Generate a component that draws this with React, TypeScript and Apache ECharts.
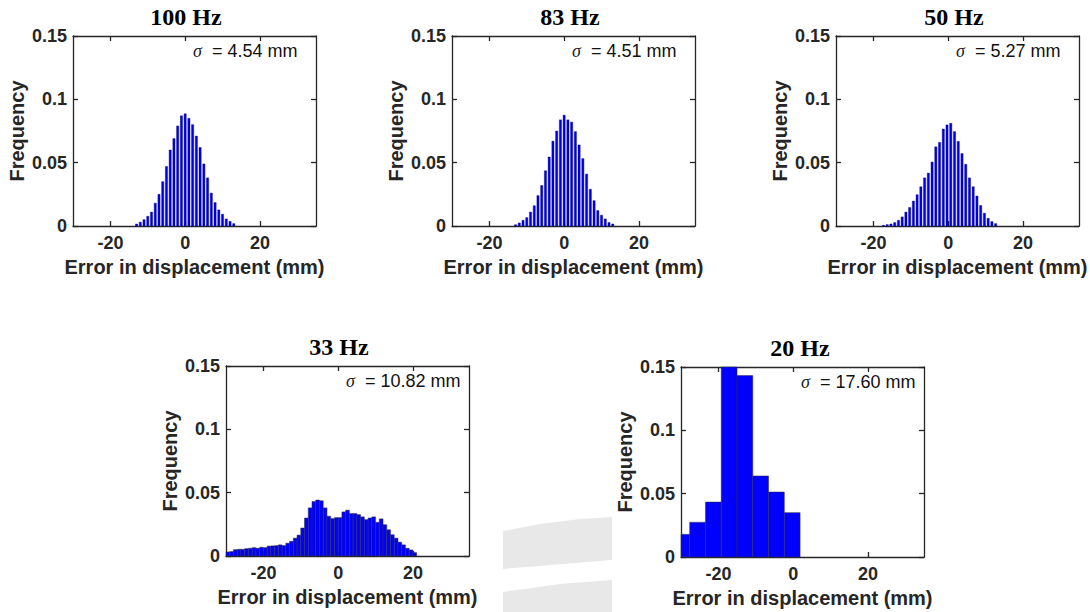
import React, { useEffect, useRef } from "react";
import * as echarts from "echarts";

// ---- data ----
const panelTitles = ["100 Hz", "83 Hz", "50 Hz", "33 Hz", "20 Hz"];
const sigmaValues = ["4.54", "4.51", "5.27", "10.82", "17.60"];
const xTickValues = [-20, 0, 20];

const freq100 = [0.0016, 0.003, 0.005, 0.0077, 0.011, 0.018, 0.025, 0.035, 0.047, 0.06, 0.069, 0.079, 0.087, 0.0886, 0.085, 0.08, 0.071, 0.062, 0.049, 0.038, 0.026, 0.0185, 0.0127, 0.0093, 0.0056, 0.0037, 0.0019];
const freq83 = [0.001, 0.0024, 0.0045, 0.0066, 0.011, 0.016, 0.024, 0.032, 0.0436, 0.0545, 0.067, 0.075, 0.0838, 0.0875, 0.0838, 0.082, 0.0745, 0.064, 0.0532, 0.041, 0.029, 0.02, 0.0122, 0.0085, 0.0056, 0.0027, 0.0016];
const freq50 = [0.0005, 0.0011, 0.0016, 0.0027, 0.0045, 0.0072, 0.011, 0.0146, 0.0197, 0.0247, 0.031, 0.038, 0.0418, 0.0505, 0.0625, 0.066, 0.0766, 0.0798, 0.0811, 0.0745, 0.0668, 0.0572, 0.0487, 0.038, 0.031, 0.0237, 0.0162, 0.0101, 0.0061, 0.0035, 0.0019];
const freq33 = [0.0032, 0.0035, 0.005, 0.0053, 0.0053, 0.0058, 0.0061, 0.0066, 0.0061, 0.0069, 0.0066, 0.0078, 0.008, 0.0082, 0.0088, 0.0082, 0.0101, 0.0116, 0.0141, 0.0165, 0.0221, 0.03, 0.038, 0.043, 0.0442, 0.0436, 0.038, 0.0314, 0.0295, 0.0303, 0.0303, 0.0348, 0.0362, 0.0335, 0.0335, 0.0327, 0.0309, 0.0287, 0.03, 0.0309, 0.0266, 0.0293, 0.0247, 0.0207, 0.0168, 0.0141, 0.0109, 0.0088, 0.0061, 0.0048, 0.0027];
const freq20 = [0.0179, 0.0274, 0.0434, 0.16, 0.1432, 0.064, 0.0513, 0.035];

// histogram bin definitions: first edge and bin width (mm)
const binStarts = [-13.5, -13.5, -17.8, -30, -31.9];
const binWidths = [1, 1, 1, 1, 4.22];
const freqs = [freq100, freq83, freq50, freq33, freq20];

// ---- layout ----
const boxes = [
  { left: 73, top: 36, titleX: 186 },
  { left: 452, top: 36, titleX: 570 },
  { left: 836, top: 36, titleX: 954 },
  { left: 226, top: 366, titleX: 339 },
  { left: 681, top: 367, titleX: 800 },
];
const BOX_W = 243;
const BOX_H = 190;
const AX = "#262626";
const SANS = "Liberation Sans, Arial, sans-serif";

function histData(i: number) {
  const s = binStarts[i];
  const w = binWidths[i];
  return freqs[i].map((f, k) => [s + k * w, s + (k + 1) * w, f]);
}

function makeRender(shrink: number, fill: string, stroke: string, lw: number) {
  return (params: any, api: any) => {
    const x0 = api.value(0);
    const x1 = api.value(1);
    const y = api.value(2);
    const p0 = api.coord([x0, y]);
    const p1 = api.coord([x1, 0]);
    const full = p1[0] - p0[0];
    const bw = full * shrink;
    const cs = params.coordSys;
    const rect = echarts.graphic.clipRectByRect(
      { x: p0[0] + (full - bw) / 2, y: p0[1], width: bw, height: p1[1] - p0[1] },
      { x: cs.x, y: cs.y, width: cs.width, height: cs.height }
    );
    if (!rect) return null;
    return {
      type: "rect",
      shape: rect,
      style: { fill, stroke, lineWidth: lw },
    };
  };
}

export default function App() {
  const ref = useRef<HTMLDivElement>(null);
  useEffect(() => {
    if (!ref.current) return;
    const chart = echarts.init(ref.current, null, { renderer: "svg" });
    const grid: any[] = [];
    const xAxis: any[] = [];
    const yAxis: any[] = [];
    const series: any[] = [];
    const title: any[] = [];
    const graphic: any[] = [
      // faint watermark visible in the gap between the lower panels
      {
        type: "polygon",
        z: -10,
        shape: { points: [[503, 531], [540, 524], [580, 519], [612, 517], [612, 560], [503, 569]] },
        style: { fill: "#e8e8e8" },
        silent: true,
      },
      {
        type: "polygon",
        z: -10,
        shape: { points: [[503, 592], [560, 584], [612, 580], [612, 612], [503, 612]] },
        style: { fill: "#e8e8e8" },
        silent: true,
      },
    ];

    boxes.forEach((b, i) => {
      grid.push({ left: b.left, top: b.top, width: BOX_W, height: BOX_H, containLabel: false });
      const lineStyle = { color: AX, width: 1.3 };
      xAxis.push({
        gridIndex: i,
        type: "value",
        min: -30,
        max: 35,
        position: "bottom",
        axisLine: { show: true, onZero: false, lineStyle },
        axisTick: { show: true, inside: true, length: 5, customValues: xTickValues, lineStyle },
        axisLabel: {
          show: true,
          customValues: xTickValues,
          margin: 8,
          color: AX,
          fontFamily: SANS,
          fontWeight: "bold",
          fontSize: 18,
        },
        splitLine: { show: false },
        name: "Error in displacement (mm)",
        nameLocation: "middle",
        nameGap: 31,
        nameTextStyle: { color: AX, fontFamily: SANS, fontWeight: "bold", fontSize: 20 },
      });
      xAxis.push({
        gridIndex: i,
        type: "value",
        min: -30,
        max: 35,
        position: "top",
        axisLine: { show: true, onZero: false, lineStyle },
        axisTick: { show: true, inside: true, length: 5, customValues: xTickValues, lineStyle },
        axisLabel: { show: false },
        splitLine: { show: false },
      });
      yAxis.push({
        gridIndex: i,
        type: "value",
        min: 0,
        max: 0.15,
        interval: 0.05,
        position: "left",
        axisLine: { show: true, onZero: false, lineStyle },
        axisTick: { show: true, inside: true, length: 5, lineStyle },
        axisLabel: {
          show: true,
          margin: 6,
          color: AX,
          fontFamily: SANS,
          fontWeight: "bold",
          fontSize: 18,
        },
        splitLine: { show: false },
        name: "Frequency",
        nameLocation: "middle",
        nameRotate: 90,
        nameGap: 46,
        nameTextStyle: { color: AX, fontFamily: SANS, fontWeight: "bold", fontSize: 20 },
      });
      yAxis.push({
        gridIndex: i,
        type: "value",
        min: 0,
        max: 0.15,
        interval: 0.05,
        position: "right",
        axisLine: { show: true, onZero: false, lineStyle },
        axisTick: { show: true, inside: true, length: 5, lineStyle },
        axisLabel: { show: false },
        splitLine: { show: false },
      });
      const thin = i < 3;
      series.push({
        type: "custom",
        xAxisIndex: 2 * i,
        yAxisIndex: 2 * i,
        renderItem: thin
          ? makeRender(0.58, "#0000e6", "#00007a", 0.4)
          : makeRender(1, "#0000ff", "#333333", 0.5),
        encode: { x: [0, 1], y: 2 },
        data: histData(i),
        z: 1,
      });
      title.push({
        text: panelTitles[i],
        left: b.titleX,
        top: b.top - 31,
        textAlign: "center",
        textStyle: {
          fontFamily: "Liberation Serif, Times New Roman, serif",
          fontWeight: "bold",
          fontSize: 24,
          color: "#000",
        },
        padding: 0,
      });
      graphic.push({
        type: "text",
        x: b.left + 120,
        y: b.top + 15,
        z: 10,
        style: {
          text: "{s|σ}{n|  = " + sigmaValues[i] + " mm}",
          verticalAlign: "middle",
          rich: {
            s: { fontFamily: "Liberation Serif, serif", fontStyle: "italic", fontSize: 18, fill: "#222" },
            n: { fontFamily: SANS, fontSize: 18, fill: "#111" },
          },
        },
      });
    });

    chart.setOption({
      animation: false,
      backgroundColor: "#ffffff",
      title,
      grid,
      xAxis,
      yAxis,
      series,
      graphic,
    });
    return () => chart.dispose();
  }, []);
  return (
    <div
      ref={ref}
      style={{ position: "absolute", left: 0, top: 0, width: 1090, height: 612 }}
    />
  );
}
